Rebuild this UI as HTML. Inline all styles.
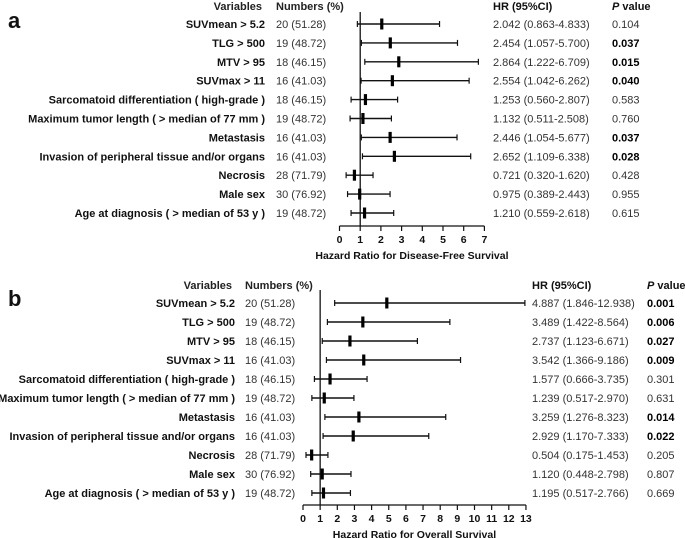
<!DOCTYPE html>
<html><head><meta charset="utf-8"><style>
body{margin:0;background:#fff}
svg{display:block;font-family:"Liberation Sans",Arial,sans-serif}
</style></head><body>
<svg id="c" width="685" height="538" viewBox="0 0 685 538"></svg>
<script>
const labels=["SUVmean > 5.2","TLG > 500","MTV > 95","SUVmax > 11","Sarcomatoid differentiation ( high-grade )","Maximum tumor length ( > median of 77 mm )","Metastasis","Invasion of peripheral tissue and/or organs","Necrosis","Male sex","Age at diagnosis ( > median of 53 y )"];
const numbersA=["20 (51.28)","19 (48.72)","18 (46.15)","16 (41.03)","18 (46.15)","19 (48.72)","16 (41.03)","16 (41.03)","28 (71.79)","30 (76.92)","19 (48.72)"];
const numbersB=["20 (51.28)","19 (48.72)","18 (46.15)","16 (41.03)","18 (46.15)","19 (48.72)","16 (41.03)","16 (41.03)","28 (71.79)","30 (76.92)","19 (48.72)"];
const hrA=[2.042,2.454,2.864,2.554,1.253,1.132,2.446,2.652,0.721,0.975,1.210];
const loA=[0.863,1.057,1.222,1.042,0.560,0.511,1.054,1.109,0.320,0.389,0.559];
const hiA=[4.833,5.700,6.709,6.262,2.807,2.508,5.677,6.338,1.620,2.443,2.618];
const pA=["0.104","0.037","0.015","0.040","0.583","0.760","0.037","0.028","0.428","0.955","0.615"];
const hrB=[4.887,3.489,2.737,3.542,1.577,1.239,3.259,2.929,0.504,1.120,1.195];
const loB=[1.846,1.422,1.123,1.366,0.666,0.517,1.276,1.170,0.175,0.448,0.517];
const hiB=[12.938,8.564,6.671,9.186,3.735,2.970,8.323,7.333,1.453,2.798,2.766];
const pB=["0.001","0.006","0.027","0.009","0.301","0.631","0.014","0.022","0.205","0.807","0.669"];
const ticksA=[0,1,2,3,4,5,6,7];
const ticksB=[0,1,2,3,4,5,6,7,8,9,10,11,12,13];
const NS="http://www.w3.org/2000/svg";
const svg=document.getElementById('c');
function mk(tag,attrs,parent){const e=document.createElementNS(NS,tag);for(const k in attrs)e.setAttribute(k,attrs[k]);(parent||svg).appendChild(e);return e;}
function txt(s,x,y,opt,parent){const t=mk('text',Object.assign({x:x,y:y,'font-size':11,fill:'#111'},opt||{}),parent);t.textContent=s;return t;}
function panel(cfg){
  const g=mk('g',{});
  
  
  const xs=v=>cfg.x0+v*cfg.ppu;
  const ys=i=>cfg.y0+i*cfg.step;
  const pl=txt(cfg.id,8,cfg.letterY,{'font-size':22,'font-weight':'bold'},g);
  
  
  const h1=txt("Variables",cfg.labX-3,cfg.headY,{'text-anchor':'end','font-weight':'bold','fill':'#222'},g);
  
  const h2=txt("Numbers (%)",cfg.numX,cfg.headY,{'font-weight':'bold','fill':'#222'},g);
  
  const h3=txt("HR (95%CI)",cfg.hrX,cfg.headY,{'font-weight':'bold'},g);
  
  const h4=mk('text',{x:cfg.pX,y:cfg.headY,'font-size':11,'font-weight':'bold',fill:'#111'},g);
  h4.innerHTML='<tspan font-style="italic">P</tspan> value';
  
  const ax=mk('line',{x1:xs(cfg.ticks[0]),x2:xs(cfg.ticks[cfg.ticks.length-1]),y1:cfg.axisY,y2:cfg.axisY,stroke:'#111','stroke-width':1.3},g);
  
  cfg.ticks.forEach(t=>{
    const tl=mk('line',{x1:xs(t),x2:xs(t),y1:cfg.axisY,y2:cfg.axisY+5,stroke:'#111','stroke-width':1.2},g);
    
    const tt=txt(String(t),xs(t),cfg.axisY+17,{'text-anchor':'middle','font-weight':'bold','font-size':10.5},g);
    
  });
  const at=txt(cfg.title,(xs(cfg.ticks[0])+xs(cfg.ticks[cfg.ticks.length-1]))/2,cfg.axisY+33,{'text-anchor':'middle','font-weight':'bold','font-size':10.5},g);
  
  const ref=mk('line',{x1:xs(1),x2:xs(1),y1:cfg.refTop,y2:cfg.axisY,stroke:'#111','stroke-width':1.3},g);
  
  labels.forEach((lab,i)=>{
    const y=ys(i);
    const l=txt(lab,cfg.labX,y+4,{'text-anchor':'end','font-weight':'bold'},g);
    
    const n=txt(cfg.nums[i],cfg.numX,y+4,{fill:'#333'},g);
    
    const h=txt(cfg.hr[i].toFixed(3)+" ("+cfg.lo[i].toFixed(3)+"-"+cfg.hi[i].toFixed(3)+")",cfg.hrX,y+4,{fill:'#333'},g);
    
    const sig=parseFloat(cfg.p[i])<0.05;
    const p=txt(cfg.p[i],cfg.pX,y+4,{fill:sig?'#000':'#333','font-weight':sig?'bold':'normal'},g);
    
    const w=mk('line',{x1:xs(cfg.lo[i]),x2:xs(cfg.hi[i]),y1:y,y2:y,stroke:'#111','stroke-width':1.4},g);
    
    [cfg.lo[i],cfg.hi[i]].forEach(v=>{
      const c=mk('line',{x1:xs(v),x2:xs(v),y1:y-3,y2:y+3,stroke:'#111','stroke-width':1.2},g);
      
    });
    const m=mk('rect',{x:xs(cfg.hr[i])-1.6,y:y-5.5,width:3.2,height:11,fill:'#000'},g);
    
  });
}
panel({id:'a',letterY:28,x0:339.5,ppu:20.7,y0:24,step:18.9,headY:10,refTop:12,axisY:226,ticks:ticksA,title:"Hazard Ratio for Disease-Free Survival",nums:numbersA,hr:hrA,lo:loA,hi:hiA,p:pA,labX:265,numX:276,hrX:493,pX:612});
panel({id:'b',letterY:306,x0:303,ppu:17.15,y0:303,step:19,headY:289,refTop:290,axisY:505,ticks:ticksB,title:"Hazard Ratio for Overall Survival",nums:numbersB,hr:hrB,lo:loB,hi:hiB,p:pB,labX:235,numX:245,hrX:532,pX:647});
</script>
</body></html>
